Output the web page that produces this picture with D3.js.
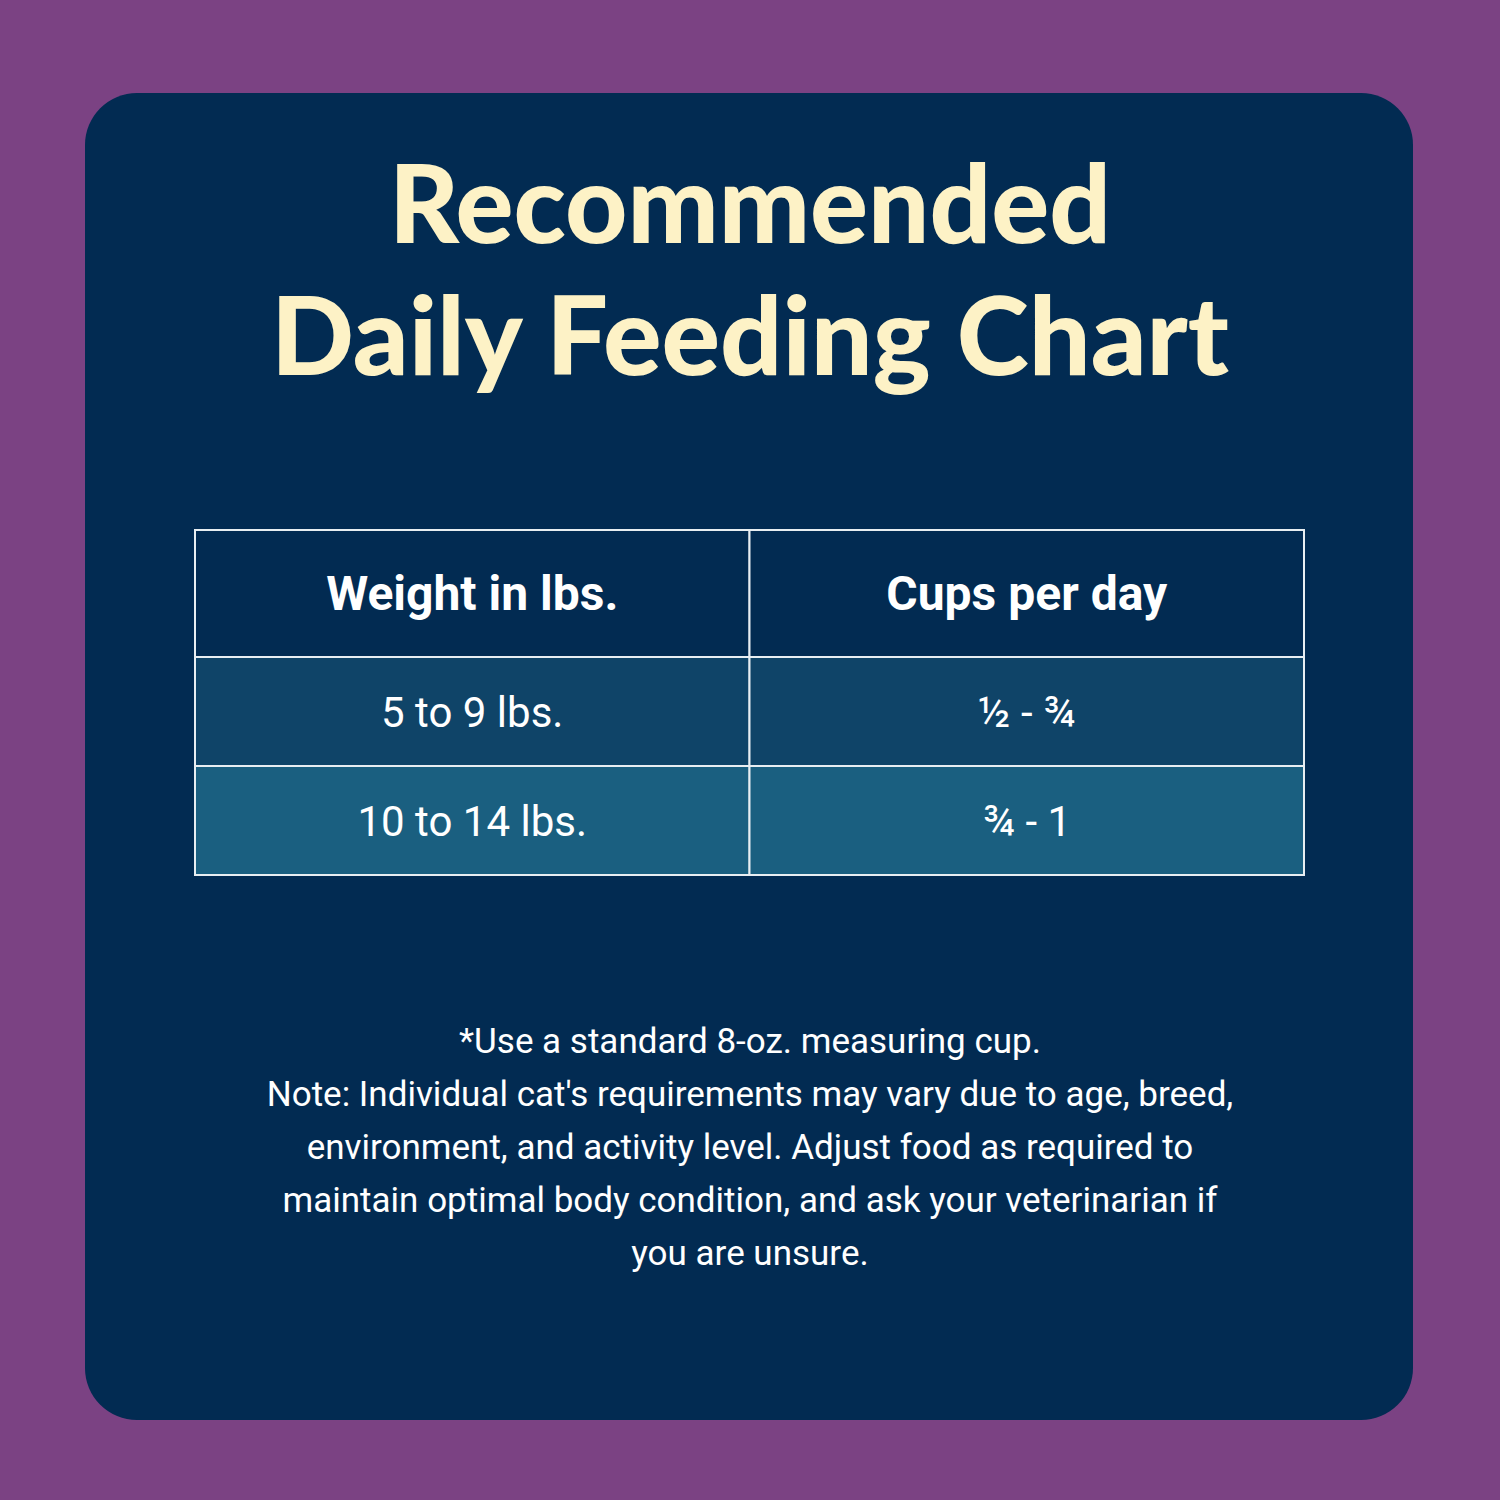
<!DOCTYPE html>
<html><head><meta charset="utf-8">
<script src="https://cdn.jsdelivr.net/npm/d3@7"></script>
<style>body{margin:0;background:#7b4283}</style></head>
<body><svg id="c" width="1500" height="1500"></svg>
<script>
const titleLines = ["Recommended", "Daily Feeding Chart"];
const headers = ["Weight in lbs.", "Cups per day"];
const weights = ["5 to 9 lbs.", "10 to 14 lbs."];
const cups = ["½ - ¾", "¾ - 1"];
const notes = ["*Use a standard 8-oz. measuring cup.",
 "Note: Individual cat's requirements may vary due to age, breed,",
 "environment, and activity level. Adjust food as required to",
 "maintain optimal body condition, and ask your veterinarian if",
 "you are unsure."];

const svg = d3.select("#c");
svg.append("rect").attr("width",1500).attr("height",1500).attr("fill","#7b4283");
svg.append("rect").attr("x",85).attr("y",93).attr("width",1328).attr("height",1327).attr("rx",52).attr("fill","#022b52");

const tw = [722, 958];
svg.selectAll("text.t").data(titleLines).join("text").attr("class","t")
 .attr("x",750).attr("y",(d,i)=>243+i*132).attr("text-anchor","middle")
 .attr("font-family","Lato").attr("font-weight",900).attr("font-size",108)
 .attr("fill","#fdf2c6").attr("textLength",(d,i)=>tw[i]).attr("lengthAdjust","spacingAndGlyphs").text(d=>d);

const rows = [headers].concat(weights.map((w,i)=>[w,cups[i]]));
const heights = [127,109,109];
const ys = [530,657,766];
const fills = ["#022b52","#0f4468","#1a5f80"];
const x = d3.scaleBand().domain([0,1]).range([195,1304]);
rows.forEach((r,i)=>{
  r.forEach((c,j)=>{
    svg.append("rect").attr("x",x(j)).attr("y",ys[i]).attr("width",x.bandwidth()).attr("height",heights[i])
      .attr("fill",fills[i]).attr("stroke","#e8eef2").attr("stroke-width",2);
    svg.append("text").attr("x",x(j)+x.bandwidth()/2).attr("y",ys[i]+heights[i]/2+(i==0?16:15))
      .attr("text-anchor","middle").attr("fill","#fff").attr("font-family","Roboto")
      .attr("font-weight",i==0?700:400).attr("font-size",i==0?48:42).text(c);
  });
});

svg.selectAll("text.n").data(notes).join("text").attr("class","n")
 .attr("x",750).attr("y",(d,i)=>1053+i*53).attr("text-anchor","middle")
 .attr("fill","#fff").attr("font-family","Roboto").attr("font-size",35).text(d=>d);
</script></body></html>
